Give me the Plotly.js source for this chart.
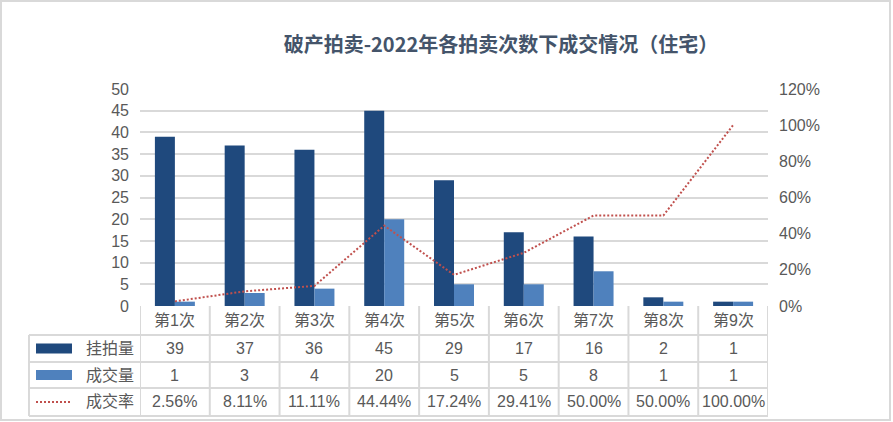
<!DOCTYPE html>
<html>
<head>
<meta charset="utf-8">
<script src="https://cdn.plot.ly/plotly-3.0.1.min.js"></script>
<style>
html,body{margin:0;padding:0;background:#fff;}
#chart{position:absolute;left:0;top:0;width:893px;height:422px;}
#frame{position:absolute;left:0;top:0;width:891px;height:421px;box-sizing:border-box;border:2px solid #d9d9d9;pointer-events:none;}
</style>
</head>
<body>
<div id="chart"></div>
<div id="frame"></div>
<script>
// ---- data ----
const categories = ["第1次","第2次","第3次","第4次","第5次","第6次","第7次","第8次","第9次"];
const listed = [39, 37, 36, 45, 29, 17, 16, 2, 1];        // 挂拍量
const sold = [1, 3, 4, 20, 5, 5, 8, 1, 1];                // 成交量
const rateText = ["2.56%","8.11%","11.11%","44.44%","17.24%","29.41%","50.00%","50.00%","100.00%"]; // 成交率
const rate = [0.0256, 0.0811, 0.1111, 0.4444, 0.1724, 0.2941, 0.5, 0.5, 1.0];
const seriesNames = ["挂拍量","成交量","成交率"];
const titleText = "破产拍卖-2022年各拍卖次数下成交情况（住宅）";

// ---- styles ----
const DARK = "#1F497D", LIGHT = "#4F81BD", RED = "#C0504D";
const GRID = "#d9d9d9", TXT = "#595959";
const FONT = "Liberation Sans, Noto Sans CJK SC, sans-serif";
const DOT = "2px,2px";

const idx = categories.map((_, i) => i);

const traces = [
  {type: "bar", name: seriesNames[0], x: idx, y: listed, marker: {color: DARK}, hoverinfo: "skip"},
  {type: "bar", name: seriesNames[1], x: idx, y: sold, marker: {color: LIGHT}, hoverinfo: "skip"},
  {type: "scatter", mode: "lines", name: seriesNames[2], x: idx, y: rate, yaxis: "y2",
   line: {color: RED, width: 2, dash: DOT}, hoverinfo: "skip"}
];

// table geometry in paper coords (plot area: x 140..768, y 89..306 px)
const rowBottoms = [0, -0.1336, -0.258, -0.378, -0.507];
const rowCenters = [-0.0668, -0.196, -0.318, -0.442];
const legLeft = -0.1768;

const shapes = [];
const lineStyle = {color: GRID, width: 2};
for (let i = 0; i <= categories.length; i++) {
  shapes.push({type: "line", xref: "x", yref: "paper", x0: i - 0.5, x1: i - 0.5, y0: 0, y1: rowBottoms[4], line: lineStyle});
}
shapes.push({type: "line", xref: "paper", yref: "paper", x0: legLeft, x1: legLeft, y0: rowBottoms[1], y1: rowBottoms[4], line: lineStyle});
for (let r = 1; r < rowBottoms.length; r++) {
  shapes.push({type: "line", xref: "paper", yref: "paper", x0: legLeft, x1: 1, y0: rowBottoms[r], y1: rowBottoms[r], line: lineStyle});
}
const keyX0 = -0.1656, keyX1 = -0.1083, keyH = 0.023;
shapes.push({type: "rect", xref: "paper", yref: "paper", x0: keyX0, x1: keyX1, y0: rowCenters[1] - keyH, y1: rowCenters[1] + keyH, fillcolor: DARK, line: {width: 0}});
shapes.push({type: "rect", xref: "paper", yref: "paper", x0: keyX0, x1: keyX1, y0: rowCenters[2] - keyH, y1: rowCenters[2] + keyH, fillcolor: LIGHT, line: {width: 0}});
shapes.push({type: "line", xref: "paper", yref: "paper", x0: keyX0, x1: keyX1, y0: rowCenters[3], y1: rowCenters[3], line: {color: RED, width: 2, dash: DOT}});

const annotations = [];
const cellFont = {family: FONT, size: 16, color: TXT};
function cell(x, y, text, xref) {
  annotations.push({xref: xref || "x", yref: "paper", x: x, y: y, text: text, showarrow: false,
    xanchor: "center", yanchor: "middle", font: cellFont});
}
categories.forEach((c, i) => {
  cell(i, rowCenters[0], c);
  cell(i, rowCenters[1], String(listed[i]));
  cell(i, rowCenters[2], String(sold[i]));
  cell(i, rowCenters[3], rateText[i]);
});
seriesNames.forEach((n, k) => cell(-0.048, rowCenters[k + 1], n, "paper"));

const layout = {
  width: 893, height: 422,
  margin: {l: 140, r: 125, t: 89, b: 116},
  paper_bgcolor: "#fff", plot_bgcolor: "#fff",
  showlegend: false,
  barmode: "group", bargap: 0.427, bargroupgap: 0,
  font: {family: FONT, color: TXT, size: 16},
  title: {text: titleText, xref: "container", yref: "container", x: 0.561, y: 0.893,
    xanchor: "center", yanchor: "middle",
    font: {family: "Noto Sans CJK SC, Liberation Sans, sans-serif", size: 20, color: "#44546A", weight: "bold"}},
  xaxis: {range: [-0.5, 8.5], showticklabels: false, showgrid: false, zeroline: false, ticks: "", fixedrange: true},
  yaxis: {range: [0, 50], dtick: 5, showgrid: true, gridcolor: GRID, gridwidth: 2, zeroline: false,
    ticks: "", ticklabelstandoff: 10, tickfont: {family: FONT, size: 16, color: TXT}},
  yaxis2: {range: [0, 1.2], dtick: 0.2, tickformat: ".0%", overlaying: "y", side: "right",
    showgrid: false, zeroline: false, ticks: "", ticklabelstandoff: 10,
    tickfont: {family: FONT, size: 16, color: TXT}},
  shapes: shapes,
  annotations: annotations
};

Plotly.newPlot("chart", traces, layout, {displayModeBar: false, staticPlot: true});
</script>
</body>
</html>
